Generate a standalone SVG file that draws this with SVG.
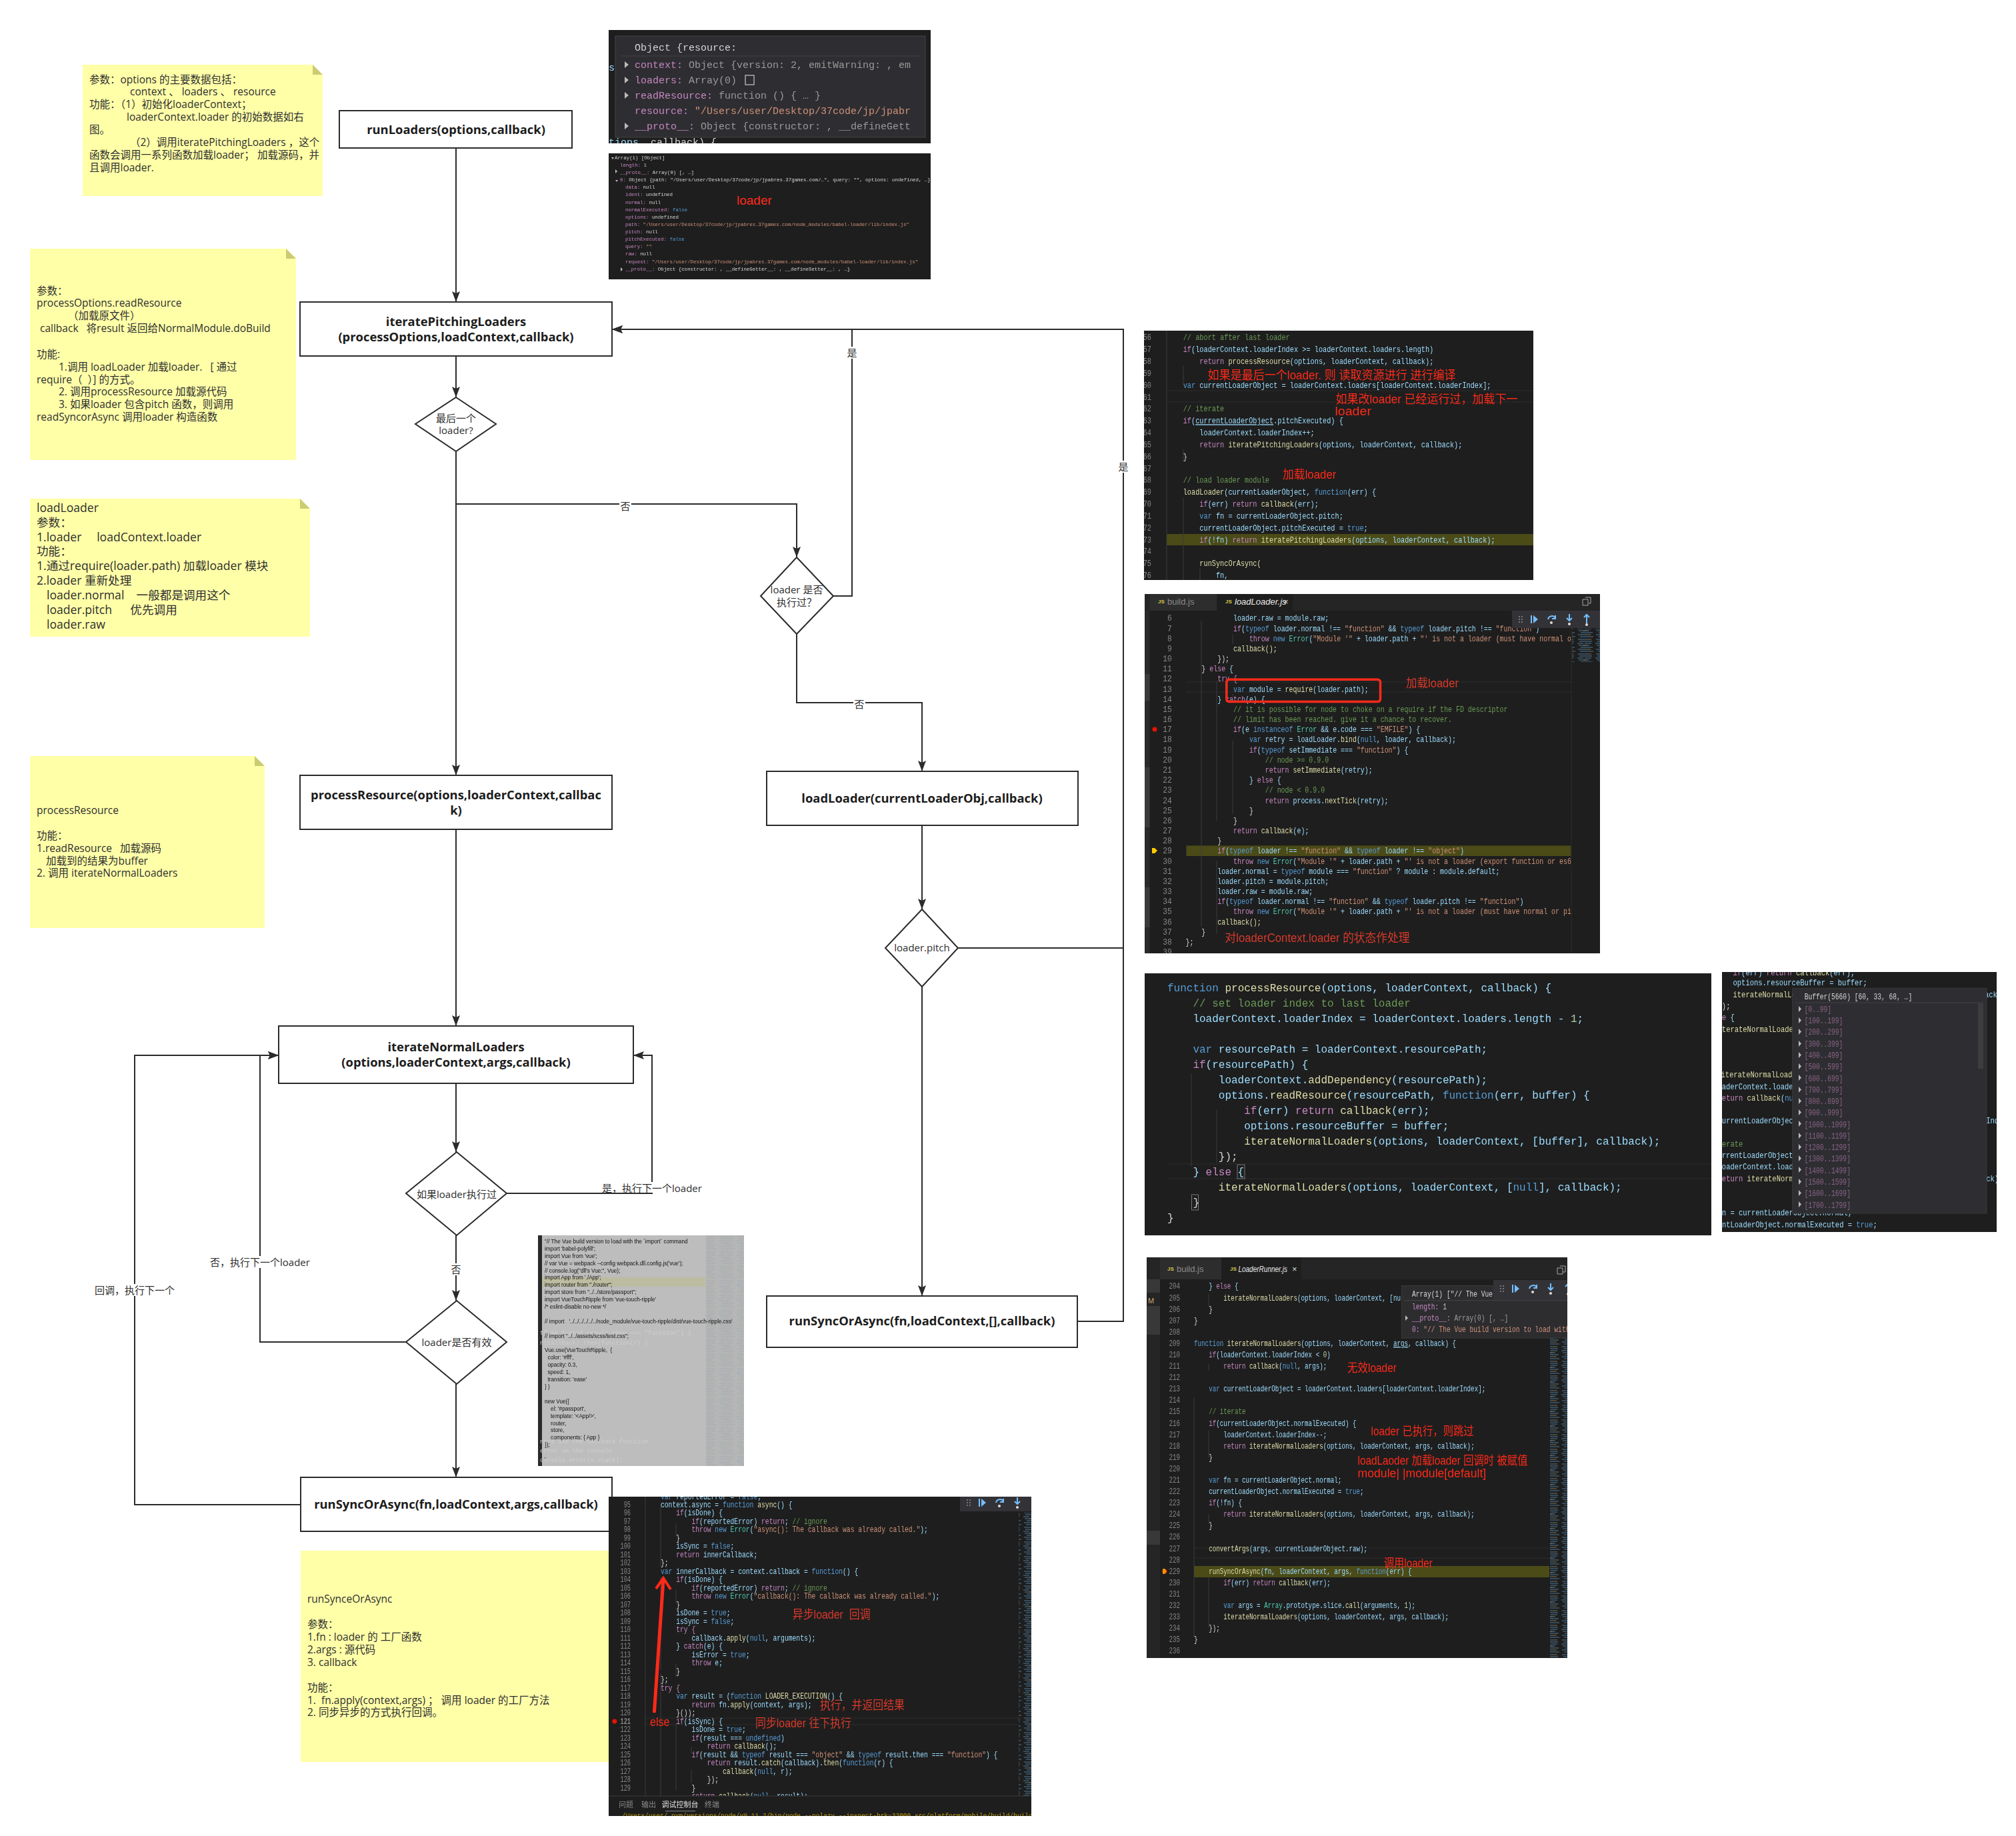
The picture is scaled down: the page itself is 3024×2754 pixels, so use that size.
<svg xmlns="http://www.w3.org/2000/svg" width="3024" height="2754" viewBox="0 0 3024 2754">
<style>
text{white-space:pre}
.u{font-family:"Open Sans","Noto Sans CJK SC",sans-serif;fill:#2f2f2f;font-size:15.5px}
.big{font-size:17.6px}
.h{font-family:"Open Sans","Noto Sans CJK SC",sans-serif;fill:#1c1c1c;font-size:18.4px;font-weight:700;text-anchor:middle}
.d{text-anchor:middle;font-size:15px}
.box{fill:#fff;stroke:#2b2b2b;stroke-width:2}
.note{fill:#ffffa8}
.fold{fill:#cbcb72}
.cn{fill:none;stroke:#2b2b2b;stroke-width:2}
.wb{fill:#fff}
.m{font-family:"Liberation Mono","DejaVu Sans Mono","Noto Sans CJK SC",monospace;fill:#9cdcfe;font-size:13px}
.k{fill:#c586c0}.b{fill:#569cd6}.f{fill:#dcdcaa}.s{fill:#ce9178}.c{fill:#6a9955}.t{fill:#4ec9b0}.n{fill:#b5cea8}.w{fill:#d4d4d4}.g{fill:#9a9a9a}.p{fill:#c586c0}
.l{font-family:"Liberation Mono","DejaVu Sans Mono",monospace;fill:#858585;font-size:13px;text-anchor:end}
.r{font-family:"Liberation Sans","Noto Sans CJK SC",sans-serif;fill:#ff2a1a;font-size:18px}
.dim{fill:#d8392b}
.bg{fill:#1e1e1e}
.tab{font-family:"Liberation Sans",sans-serif;font-size:13px;fill:#8a8a8a}
.js{font-family:"Liberation Sans",sans-serif;font-size:8px;font-weight:700;fill:#d4c94a}
.a{font-family:"Liberation Sans",sans-serif;font-size:8.2px;fill:#111}
.gh{font-family:"Liberation Mono",monospace;font-size:9px;fill:#cfcfcf}
.hl{fill:#4b4b18}
.cl{stroke:#2c2c2c;stroke-width:1}
.guide{stroke:#3a3a3a;stroke-width:1}
</style>
<defs>
<marker id="ar" markerUnits="userSpaceOnUse" markerWidth="18" markerHeight="14" refX="16" refY="6" orient="auto"><path d="M0,0L16,6L0,12L3,6Z" fill="#2b2b2b"/></marker>
<filter id="soft"><feGaussianBlur stdDeviation="0.3"/></filter>
<pattern id="mini" width="27" height="22" patternUnits="userSpaceOnUse">
<path d="M2 2h14M4 5h19M1 8h9M12 8h10M3 11h16M6 14h18M2 17h12M5 20h20" stroke="#4d7a99" stroke-width="1.2" fill="none"/>
<path d="M16 2h6M10 11h5M14 17h7" stroke="#7d6f55" stroke-width="1.2" fill="none"/>
</pattern>
<g id="tb"><rect width="132" height="26" fill="#333337"/>
<path d="M10 8h2v2h-2zM14 8h2v2h-2zM10 12h2v2h-2zM14 12h2v2h-2zM10 16h2v2h-2zM14 16h2v2h-2z" fill="#777"/>
<path d="M28 7h2v12h-2zM32 7l7 6l-7 6z" fill="#75beff"/>
<path d="M54 13a6 6 0 0 1 11-2M65 7v5h-5" stroke="#75beff" stroke-width="2" fill="none"/><circle cx="59" cy="18" r="2" fill="#ddd"/>
<path d="M86 5v9M82 11l4 4l4-4" stroke="#75beff" stroke-width="2" fill="none"/><circle cx="86" cy="20" r="2" fill="#ddd"/>
<path d="M112 19v-13M108 10l4-4l4 4" stroke="#75beff" stroke-width="2" fill="none"/><circle cx="112" cy="21" r="2" fill="#ddd"/>
</g>
<clipPath id="c1"><rect width="483" height="170"/></clipPath>
<clipPath id="c2"><rect width="483" height="189"/></clipPath>
<clipPath id="c3"><rect width="584" height="374"/></clipPath>
<clipPath id="c4"><rect width="683" height="539"/></clipPath>
<clipPath id="c5"><rect width="850" height="393"/></clipPath>
<clipPath id="c6"><rect width="412" height="390"/></clipPath>
<clipPath id="c7"><rect width="631" height="601"/></clipPath>
<clipPath id="c8"><rect width="634" height="479"/></clipPath>
<clipPath id="c9"><rect width="309" height="346"/></clipPath>
</defs>
<rect width="3024" height="2754" fill="#fff"/>

<g id="note-runLoaders"><path class="note" d="M124 97H469L484 112V294H124Z"/><path class="fold" d="M469 97L484 112H469Z"/>
<text class="u" x="134" y="125">参数：options 的主要数据包括：</text>
<text class="u" x="195" y="143">context 、 loaders 、 resource</text>
<text class="u" x="134" y="162">功能：（1）初始化loaderContext；</text>
<text class="u" x="190" y="181">loaderContext.loader 的初始数据如右</text>
<text class="u" x="134" y="200">图。</text>
<text class="u" x="195" y="219">（2）调用iteratePitchingLoaders ，这个</text>
<text class="u" x="134" y="238">函数会调用一系列函数加载loader； 加载源码，并</text>
<text class="u" x="134" y="257">且调用loader.</text></g>

<g id="note-iteratePitching"><path class="note" d="M45 373H429L444 388V690H45Z"/><path class="fold" d="M429 373L444 388H429Z"/>
<text class="u" x="55" y="442">参数：</text>
<text class="u" x="55" y="460">processOptions.readResource</text>
<text class="u" x="102" y="479">（加载原文件）</text>
<text class="u" x="60" y="498">callback   将result 返回给NormalModule.doBuild</text>
<text class="u" x="55" y="537">功能:</text>
<text class="u" x="88" y="556">1.调用 loadLoader 加载loader.   [ 通过</text>
<text class="u" x="55" y="575">require（  ）] 的方式。</text>
<text class="u" x="88" y="593">2. 调用processResource 加载源代码</text>
<text class="u" x="88" y="612">3. 如果loader 包含pitch 函数，则调用</text>
<text class="u" x="55" y="631">readSyncorAsync 调用loader 构造函数</text></g>

<g id="note-loadLoader"><path class="note" d="M45 748H450L465 763V955H45Z"/><path class="fold" d="M450 748L465 763H450Z"/>
<text class="u big" x="55" y="768">loadLoader</text>
<text class="u big" x="55" y="790">参数：</text>
<text class="u big" x="55" y="812">1.loader     loadContext.loader</text>
<text class="u big" x="55" y="833">功能：</text>
<text class="u big" x="55" y="855">1.通过require(loader.path) 加载loader 模块</text>
<text class="u big" x="55" y="877">2.loader 重新处理</text>
<text class="u big" x="70" y="899">loader.normal    一般都是调用这个</text>
<text class="u big" x="70" y="921">loader.pitch      优先调用</text>
<text class="u big" x="70" y="943">loader.raw</text></g>

<g id="note-processResource"><path class="note" d="M45 1134H382L397 1149V1392H45Z"/><path class="fold" d="M382 1134L397 1149H382Z"/>
<text class="u" x="55" y="1221">processResource</text>
<text class="u" x="55" y="1259">功能：</text>
<text class="u" x="55" y="1278">1.readResource   加载源码</text>
<text class="u" x="69" y="1297">加载到的结果为buffer</text>
<text class="u" x="55" y="1315">2. 调用 iterateNormalLoaders</text></g>

<g id="note-runSync"><rect class="note" x="451" y="2326" width="480" height="317"/>
<text class="u" x="461" y="2404">runSynceOrAsync</text>
<text class="u" x="461" y="2442">参数：</text>
<text class="u" x="461" y="2461">1.fn : loader 的 工厂函数</text>
<text class="u" x="461" y="2480">2.args : 源代码</text>
<text class="u" x="461" y="2499">3. callback</text>
<text class="u" x="461" y="2537">功能：</text>
<text class="u" x="461" y="2556">1.  fn.apply(context,args) ； 调用 loader 的工厂方法</text>
<text class="u" x="461" y="2574">2. 同步异步的方式执行回调。</text></g>

<g id="connectors">
<path class="cn" marker-end="url(#ar)" d="M684 222V453"/>
<path class="cn" marker-end="url(#ar)" d="M684 534V596"/>
<path class="cn" marker-end="url(#ar)" d="M684 677V1163"/>
<path class="cn" marker-end="url(#ar)" d="M684 756H1195V836"/>
<path class="cn" marker-end="url(#ar)" d="M1250 894H1278V494H918"/>
<path class="cn" marker-end="url(#ar)" d="M1195 951V1054H1383V1157"/>
<path class="cn" marker-end="url(#ar)" d="M1383 1238V1364"/>
<path class="cn" d="M1437 1422H1685"/>
<path class="cn" marker-end="url(#ar)" d="M1383 1480V1944"/>
<path class="cn" marker-end="url(#ar)" d="M1616 1982H1685V494H918"/>
<path class="cn" marker-end="url(#ar)" d="M684 1244V1539"/>
<path class="cn" marker-end="url(#ar)" d="M684 1625V1728"/>
<path class="cn" marker-end="url(#ar)" d="M760 1790H978V1583H950"/>
<path class="cn" marker-end="url(#ar)" d="M684 1853V1951"/>
<path class="cn" marker-end="url(#ar)" d="M609 2013H390V1583H418"/>
<path class="cn" marker-end="url(#ar)" d="M684 2076V2216"/>
<path class="cn" marker-end="url(#ar)" d="M451 2257H202V1583H418"/>
<g id="connector-labels">
<rect class="wb" x="929" y="750" width="18" height="18"/><text class="u d" x="938" y="765">否</text>
<rect class="wb" x="1269" y="520" width="18" height="18"/><text class="u d" x="1278" y="535">是</text>
<rect class="wb" x="1280" y="1047" width="18" height="18"/><text class="u d" x="1289" y="1062">否</text>
<rect class="wb" x="1676" y="691" width="18" height="18"/><text class="u d" x="1685" y="706">是</text>
<rect class="wb" x="902" y="1773" width="152" height="16"/><text class="u d" x="978" y="1788">是，执行下一个loader</text>
<rect class="wb" x="675" y="1895" width="18" height="18"/><text class="u d" x="684" y="1910">否</text>
<rect class="wb" x="313" y="1884" width="152" height="18"/><text class="u d" x="390" y="1899">否，执行下一个loader</text>
<rect class="wb" x="140" y="1926" width="124" height="18"/><text class="u d" x="202" y="1941">回调，执行下一个</text>
</g>
</g>

<g id="node-runLoaders"><rect class="box" x="509" y="166" width="349" height="56"/><text class="h" x="684" y="201">runLoaders(options,callback)</text></g>
<g id="node-iteratePitchingLoaders"><rect class="box" x="450" y="453" width="468" height="81"/><text class="h" x="684" y="489">iteratePitchingLoaders</text><text class="h" x="684" y="512">(processOptions,loadContext,callback)</text></g>
<g id="node-lastLoader"><path class="box" d="M684 596L744 636L684 677L623 636Z"/><text class="u d" x="684" y="633">最后一个</text><text class="u d" x="684" y="651">loader?</text></g>
<g id="node-executed"><path class="box" d="M1195 836L1250 894L1195 951L1141 894Z"/><text class="u d" x="1195" y="890">loader 是否</text><text class="u d" x="1195" y="909">执行过？</text></g>
<g id="node-processResource"><rect class="box" x="450" y="1163" width="468" height="81"/><text class="h" x="684" y="1199">processResource(options,loaderContext,callbac</text><text class="h" x="684" y="1222">k)</text></g>
<g id="node-loadLoader"><rect class="box" x="1150" y="1157" width="467" height="81"/><text class="h" x="1383" y="1204">loadLoader(currentLoaderObj,callback)</text></g>
<g id="node-pitch"><path class="box" d="M1383 1364L1437 1422L1383 1480L1328 1422Z"/><text class="u d" x="1383" y="1427">loader.pitch</text></g>
<g id="node-runSyncPitch"><rect class="box" x="1150" y="1944" width="466" height="77"/><text class="h" x="1383" y="1988">runSyncOrAsync(fn,loadContext,[],callback)</text></g>
<g id="node-iterateNormalLoaders"><rect class="box" x="418" y="1539" width="532" height="86"/><text class="h" x="684" y="1577">iterateNormalLoaders</text><text class="h" x="684" y="1600">(options,loaderContext,args,callback)</text></g>
<g id="node-normalExecuted"><path class="box" d="M685 1728L760 1790L685 1853L609 1790Z"/><text class="u d" x="685" y="1797">如果loader执行过</text></g>
<g id="node-valid"><path class="box" d="M685 1951L760 2013L685 2076L609 2013Z"/><text class="u d" x="685" y="2019">loader是否有效</text></g>
<g id="node-runSync"><rect class="box" x="451" y="2216" width="467" height="81"/><text class="h" x="684" y="2263">runSyncOrAsync(fn,loadContext,args,callback)</text></g>

<g id="shot-options" transform="translate(913,45)" clip-path="url(#c1)">
<rect class="bg" width="483" height="170"/>
<g filter="url(#soft)">
<text class="m" style="font-size:15px" x="0" y="61">s</text>
<text class="m" style="font-size:15px" x="0" y="173">tions<tspan class="w">, callback) {</tspan></text>
<rect x="10" y="9" width="465" height="152" fill="#2d2d30" stroke="#454545"/>
<path d="M18 39H467" stroke="#454545"/>
<path d="M24 47l6 5l-6 5zM24 70l6 5l-6 5zM24 93l6 5l-6 5zM24 139l6 5l-6 5z" fill="#bbb" stroke="none"/>
<text class="m w" style="font-size:15px" x="39" y="31">Object {resource:</text>
<text class="m" style="font-size:15px" x="39" y="57"><tspan class="p">context:</tspan><tspan class="g"> Object {version: 2, emitWarning: , em</tspan></text>
<text class="m" style="font-size:15px" x="39" y="80"><tspan class="p">loaders:</tspan><tspan class="g"> Array(0)</tspan></text>
<rect x="205" y="68" width="13" height="14" fill="none" stroke="#aaa" stroke-width="1.5"/>
<text class="m" style="font-size:15px" x="39" y="103"><tspan class="p">readResource:</tspan><tspan class="g"> function () { … }</tspan></text>
<text class="m" style="font-size:15px" x="39" y="126"><tspan class="p">resource:</tspan><tspan class="s"> "/Users/user/Desktop/37code/jp/jpabr</tspan></text>
<text class="m" style="font-size:15px" x="39" y="149"><tspan class="p">__proto__:</tspan><tspan class="g"> Object {constructor: , __defineGett</tspan></text>
</g></g>

<g id="shot-loader" transform="translate(913,230)" clip-path="url(#c2)">
<rect class="bg" width="483" height="189"/>
<g filter="url(#soft)">
<path d="M4 6l4 0l-2 3zM10 24l3 3l-3 3zM10 40l4 0l-2 3zM18 171l3 3l-3 3z" fill="#bbb"/>
<text class="m w" style="font-size:7.4px" x="9" y="9">Array(1) [Object]</text>
<text class="m n" style="font-size:7.4px" x="17" y="20"><tspan class="p">length:</tspan> 1</text>
<text class="m w" style="font-size:7.4px" x="17" y="31"><tspan class="p">__proto__:</tspan> Array(0) [, …]</text>
<text class="m w" style="font-size:7.4px" x="17" y="42"><tspan class="p">0:</tspan> Object {path: "/Users/user/Desktop/37code/jp/jpabres.37games.com/…", query: "", options: undefined, …}</text>
<text class="m w" style="font-size:7.4px" x="25" y="53"><tspan class="p">data:</tspan> null</text>
<text class="m w" style="font-size:7.4px" x="25" y="64"><tspan class="p">ident:</tspan> undefined</text>
<text class="m w" style="font-size:7.4px" x="25" y="76"><tspan class="p">normal:</tspan> null</text>
<text class="m w" style="font-size:7.4px" x="25" y="87"><tspan class="p">normalExecuted:</tspan><tspan class="b"> false</tspan></text>
<text class="m w" style="font-size:7.4px" x="25" y="98"><tspan class="p">options:</tspan> undefined</text>
<text class="m s" style="font-size:7.4px" x="25" y="109"><tspan class="p">path:</tspan> "/Users/user/Desktop/37code/jp/jpabres.37games.com/node_modules/babel-loader/lib/index.js"</text>
<text class="m w" style="font-size:7.4px" x="25" y="120"><tspan class="p">pitch:</tspan> null</text>
<text class="m w" style="font-size:7.4px" x="25" y="131"><tspan class="p">pitchExecuted:</tspan><tspan class="b"> false</tspan></text>
<text class="m s" style="font-size:7.4px" x="25" y="142"><tspan class="p">query:</tspan> ""</text>
<text class="m w" style="font-size:7.4px" x="25" y="153"><tspan class="p">raw:</tspan> null</text>
<text class="m s" style="font-size:7.4px" x="25" y="165"><tspan class="p">request:</tspan> "/Users/user/Desktop/37code/jp/jpabres.37games.com/node_modules/babel-loader/lib/index.js"</text>
<text class="m w" style="font-size:7.4px" x="25" y="176"><tspan class="p">__proto__:</tspan> Object {constructor: , __defineGetter__: , __defineSetter__: , …}</text>
</g>
<text class="r" style="font-size:19px" x="192" y="77">loader</text>
</g>

<g id="shot-pitching" transform="translate(1716,496)" clip-path="url(#c3)">
<rect class="bg" width="587" height="374"/>
<path class="cl" d="M34 90H587M34 107H587"/>
<rect class="hl" x="34" y="305" width="553" height="17"/>
<path class="guide" d="M34 0V374M59 53V78M59 178V196M59 250V374M84 356V374"/>
<g filter="url(#soft)">
<g class="l" transform="translate(11,0) scale(.79,1)">
<text class="l" y="14.5">56</text><text class="l" y="32.3">57</text><text class="l" y="50.2">58</text><text class="l" y="68">59</text><text class="l" y="85.8">60</text><text class="l w" y="103.7">61</text><text class="l" y="121.5">62</text><text class="l" y="139.3">63</text><text class="l" y="157.1">64</text><text class="l" y="175">65</text><text class="l" y="192.8">66</text><text class="l" y="210.6">67</text><text class="l" y="228.5">68</text><text class="l" y="246.3">69</text><text class="l" y="264.1">70</text><text class="l" y="282">71</text><text class="l" y="299.8">72</text><text class="l" y="317.6">73</text><text class="l" y="335.4">74</text><text class="l" y="353.3">75</text><text class="l" y="371.1">76</text>
</g>
<g transform="translate(58.7,0) scale(.79,1)">
<text class="m c" y="14.5">// abort after last loader</text>
<text class="m" y="32.3"><tspan class="k">if</tspan>(loaderContext.loaderIndex &gt;= loaderContext.loaders.length)</text>
<text class="m" y="50.2"><tspan class="k">    return</tspan> <tspan class="f">processResource</tspan>(options, loaderContext, callback);</text>
<text class="m" y="85.8"><tspan class="b">var</tspan> currentLoaderObject = loaderContext.loaders[loaderContext.loaderIndex];</text>
<text class="m c" y="121.5">// iterate</text>
<text class="m" y="139.3"><tspan class="k">if</tspan>(<tspan text-decoration="underline">currentLoaderObject</tspan>.pitchExecuted) {</text>
<text class="m" y="157.1">    loaderContext.loaderIndex++;</text>
<text class="m" y="175"><tspan class="k">    return</tspan> <tspan class="f">iteratePitchingLoaders</tspan>(options, loaderContext, callback);</text>
<text class="m w" y="192.8">}</text>
<text class="m c" y="228.5">// load loader module</text>
<text class="m" y="246.3"><tspan class="f">loadLoader</tspan>(currentLoaderObject, <tspan class="b">function</tspan>(err) {</text>
<text class="m" y="264.1"><tspan class="k">    if</tspan>(err) <tspan class="k">return</tspan> <tspan class="f">callback</tspan>(err);</text>
<text class="m" y="282"><tspan class="b">    var</tspan> fn = currentLoaderObject.pitch;</text>
<text class="m" y="299.8">    currentLoaderObject.pitchExecuted = <tspan class="b">true</tspan>;</text>
<text class="m" y="317.6"><tspan class="k">    if</tspan>(!fn) <tspan class="k">return</tspan> <tspan class="f">iteratePitchingLoaders</tspan>(options, loaderContext, callback);</text>
<text class="m f" y="353.3">    runSyncOrAsync(</text>
<text class="m" y="371.1">        fn,</text>
</g></g>
<text class="r" x="95.6" y="73" textLength="372" lengthAdjust="spacingAndGlyphs">如果是最后一个loader. 则 读取资源进行 进行编译</text>
<text class="r" x="287.6" y="109" textLength="273" lengthAdjust="spacingAndGlyphs">如果改loader 已经运行过，加载下一</text>
<text class="r" x="286.4" y="127" textLength="54.6" lengthAdjust="spacingAndGlyphs">loader</text>
<text class="r" x="208" y="222" textLength="80.4" lengthAdjust="spacingAndGlyphs">加载loader</text>
</g>

<g id="shot-loadLoader" transform="translate(1717,891)" clip-path="url(#c4)">
<rect class="bg" width="686" height="539"/>
<rect width="686" height="25" fill="#252526"/><rect x="7.5" width="101" height="25" fill="#2d2d2d"/><rect x="108.5" width="114" height="25" class="bg"/>
<rect y="25" width="7.5" height="514" fill="#2a2a2a"/><rect y="120" width="7.5" height="40" fill="#3a3a3a"/><rect y="260" width="7.5" height="90" fill="#3a3a3a"/><rect y="440" width="7.5" height="60" fill="#3a3a3a"/>
<text class="js" x="20" y="14">JS</text><text class="tab" x="34" y="16">build.js</text>
<text class="js" x="121" y="14">JS</text><text class="tab" x="135" y="16" style="fill:#e8e8e8;font-style:italic">loadLoader.js</text><text class="tab" x="208" y="16" style="fill:#ddd">×</text>
<path d="M657 8h8v9h-8zM661 5h8v9h-3" fill="none" stroke="#aaa"/>
<path class="cl" d="M62 132H642M62 147H642"/>
<rect class="hl" x="62.4" y="377.4" width="577" height="15.6"/>
<path class="guide" d="M85 40V500M108 130V340M108 400V510M132 60V75M132 150V155M132 220V330"/>
<g filter="url(#soft)">
<g transform="translate(40.7,0) scale(.87,1)">
<text class="l" y="40.5">6</text><text class="l" y="55.7">7</text><text class="l" y="70.8">8</text><text class="l" y="86">9</text><text class="l" y="101.2">10</text><text class="l" y="116.4">11</text><text class="l" y="131.5">12</text><text class="l w" y="146.7">13</text><text class="l" y="161.9">14</text><text class="l" y="177">15</text><text class="l" y="192.2">16</text><text class="l" y="207.4">17</text><text class="l" y="222.5">18</text><text class="l" y="237.7">19</text><text class="l" y="252.9">20</text><text class="l" y="268.1">21</text><text class="l" y="283.2">22</text><text class="l" y="298.4">23</text><text class="l" y="313.6">24</text><text class="l" y="328.7">25</text><text class="l" y="343.9">26</text><text class="l" y="359.1">27</text><text class="l" y="374.2">28</text><text class="l" y="389.4">29</text><text class="l" y="404.6">30</text><text class="l" y="419.8">31</text><text class="l" y="434.9">32</text><text class="l" y="450.1">33</text><text class="l" y="465.3">34</text><text class="l" y="480.4">35</text><text class="l" y="495.6">36</text><text class="l" y="510.8">37</text><text class="l" y="525.9">38</text><text class="l" y="541.1">39</text>
</g>
<g transform="translate(61.5,0) scale(.765,1)">
<text class="m" style="font-size:13px" y="40.5">            loader.raw = module.raw;</text>
<text class="m" y="55.7"><tspan class="k">            if</tspan>(<tspan class="b">typeof</tspan> loader.normal !== <tspan class="s">"function"</tspan> &amp;&amp; <tspan class="b">typeof</tspan> loader.pitch !== <tspan class="s">"function"</tspan>)</text>
<text class="m" y="70.8"><tspan class="k">                throw</tspan> <tspan class="b">new</tspan> <tspan class="t">Error</tspan>(<tspan class="s">"Module '"</tspan> + loader.path + <tspan class="s">"' is not a loader (must have normal or pitch function)"</tspan>);</text>
<text class="m f" y="86">            callback();</text>
<text class="m w" y="101.2">        });</text>
<text class="m" y="116.4"><tspan class="w">    } </tspan><tspan class="k">else</tspan> {</text>
<text class="m k" y="131.5">        try {</text>
<text class="m" y="146.7"><tspan class="b">            var</tspan> module = <tspan class="f">require</tspan>(loader.path);</text>
<text class="m" y="161.9">        } <tspan class="k">catch</tspan>(e) {</text>
<text class="m c" y="177">            // it is possible for node to choke on a require if the FD descriptor</text>
<text class="m c" y="192.2">            // limit has been reached. give it a chance to recover.</text>
<text class="m" y="207.4"><tspan class="k">            if</tspan>(e <tspan class="b">instanceof</tspan> <tspan class="t">Error</tspan> &amp;&amp; e.code === <tspan class="s">"EMFILE"</tspan>) {</text>
<text class="m" y="222.5"><tspan class="b">                var</tspan> retry = loadLoader.<tspan class="f">bind</tspan>(<tspan class="b">null</tspan>, loader, callback);</text>
<text class="m" y="237.7"><tspan class="k">                if</tspan>(<tspan class="b">typeof</tspan> setImmediate === <tspan class="s">"function"</tspan>) {</text>
<text class="m c" y="252.9">                    // node &gt;= 0.9.0</text>
<text class="m" y="268.1"><tspan class="k">                    return</tspan> <tspan class="f">setImmediate</tspan>(retry);</text>
<text class="m" y="283.2">                } <tspan class="k">else</tspan> {</text>
<text class="m c" y="298.4">                    // node &lt; 0.9.0</text>
<text class="m" y="313.6"><tspan class="k">                    return</tspan> process.<tspan class="f">nextTick</tspan>(retry);</text>
<text class="m w" y="328.7">                }</text>
<text class="m w" y="343.9">            }</text>
<text class="m" y="359.1"><tspan class="k">            return</tspan> <tspan class="f">callback</tspan>(e);</text>
<text class="m w" y="374.2">        }</text>
<text class="m" y="389.4"><tspan class="k">        if</tspan>(<tspan class="b">typeof</tspan> loader !== <tspan class="s">"function"</tspan> &amp;&amp; <tspan class="b">typeof</tspan> loader !== <tspan class="s">"object"</tspan>)</text>
<text class="m" y="404.6"><tspan class="k">            throw</tspan> <tspan class="b">new</tspan> <tspan class="t">Error</tspan>(<tspan class="s">"Module '"</tspan> + loader.path + <tspan class="s">"' is not a loader (export function or es6 module)"</tspan>);</text>
<text class="m" y="419.8">        loader.normal = <tspan class="b">typeof</tspan> module === <tspan class="s">"function"</tspan> ? module : module.default;</text>
<text class="m" y="434.9">        loader.pitch = module.pitch;</text>
<text class="m" y="450.1">        loader.raw = module.raw;</text>
<text class="m" y="465.3"><tspan class="k">        if</tspan>(<tspan class="b">typeof</tspan> loader.normal !== <tspan class="s">"function"</tspan> &amp;&amp; <tspan class="b">typeof</tspan> loader.pitch !== <tspan class="s">"function"</tspan>)</text>
<text class="m" y="480.4"><tspan class="k">            throw</tspan> <tspan class="b">new</tspan> <tspan class="t">Error</tspan>(<tspan class="s">"Module '"</tspan> + loader.path + <tspan class="s">"' is not a loader (must have normal or pitch function)"</tspan>);</text>
<text class="m f" y="495.6">        callback();</text>
<text class="m w" y="510.8">    }</text>
<text class="m w" y="525.9">};</text>
</g></g>
<rect x="640" y="25" width="44" height="514" class="bg"/>
<rect x="641" y="52" width="43" height="50" fill="url(#mini)"/>
<path d="M640 25V539" stroke="#2c2c2c"/>
<use href="#tb" x="551" y="25"/>
<rect x="122.8" y="128.3" width="230.7" height="33.3" rx="4" fill="none" stroke="#ff2a1a" stroke-width="3.5"/>
<text class="r dim" x="392" y="140" textLength="79" lengthAdjust="spacingAndGlyphs">加载loader</text>
<text class="r dim" x="120.5" y="522" textLength="277" lengthAdjust="spacingAndGlyphs">对loaderContext.loader 的状态作处理</text>
<circle cx="15" cy="203" r="3.5" fill="#e51400"/>
<path d="M11 381h4l4 4l-4 4h-4z" fill="#ffcc00"/>
</g>

<g id="shot-processResource" transform="translate(1717,1460)" clip-path="url(#c5)">
<rect class="bg" width="854" height="393"/>
<path class="cl" d="M34 286H854M34 308H854"/>
<path class="guide" d="M70 150V290M108 205V285"/>
<rect x="139" y="287" width="11" height="21" fill="none" stroke="#777"/><rect x="70.5" y="332" width="10" height="23" fill="none" stroke="#777"/>
<g transform="translate(34,0)" filter="url(#soft)">
<text class="m" style="font-size:16px" y="27"><tspan class="b">function</tspan> <tspan class="f">processResource</tspan>(options, loaderContext, callback) {</text>
<text class="m c" style="font-size:16px" y="50">    // set loader index to last loader</text>
<text class="m" style="font-size:16px" y="73">    loaderContext.loaderIndex = loaderContext.loaders.length - <tspan class="n">1</tspan>;</text>
<text class="m" style="font-size:16px" y="119"><tspan class="b">    var</tspan> resourcePath = loaderContext.resourcePath;</text>
<text class="m" style="font-size:16px" y="142"><tspan class="k">    if</tspan>(resourcePath) {</text>
<text class="m" style="font-size:16px" y="165">        loaderContext.<tspan class="f">addDependency</tspan>(resourcePath);</text>
<text class="m" style="font-size:16px" y="188">        options.<tspan class="f">readResource</tspan>(resourcePath, <tspan class="b">function</tspan>(err, buffer) {</text>
<text class="m" style="font-size:16px" y="211"><tspan class="k">            if</tspan>(err) <tspan class="k">return</tspan> <tspan class="f">callback</tspan>(err);</text>
<text class="m" style="font-size:16px" y="234">            options.resourceBuffer = buffer;</text>
<text class="m" style="font-size:16px" y="257"><tspan class="f">            iterateNormalLoaders</tspan>(options, loaderContext, [buffer], callback);</text>
<text class="m w" style="font-size:16px" y="280">        });</text>
<text class="m" style="font-size:16px" y="303">    } <tspan class="k">else</tspan> {</text>
<text class="m" style="font-size:16px" y="326"><tspan class="f">        iterateNormalLoaders</tspan>(options, loaderContext, [<tspan class="b">null</tspan>], callback);</text>
<text class="m w" style="font-size:16px" y="349">    }</text>
<text class="m w" style="font-size:16px" y="372">}</text>
</g></g>

<g id="shot-buffer" transform="translate(2583,1458)" clip-path="url(#c6)">
<rect class="bg" width="412" height="390"/>
<g filter="url(#soft)">
<g transform="translate(16.5,0) scale(.808,1)">
<text class="m" y="5"><tspan class="k">if</tspan>(err) <tspan class="k">return</tspan> <tspan class="f">callback</tspan>(err);</text>
<text class="m" y="20.3">options.resourceBuffer = buffer;</text>
<text class="m" y="37.7"><tspan class="f">iterateNormalLoaders</tspan>(options, loaderContext, [buffer], callback);</text>
</g>
<g transform="scale(.808,1)">
<text class="m w" x="-8" y="55">});</text>
<text class="m" x="-39" y="72"><tspan class="w">} </tspan><tspan class="k">else</tspan> {</text>
<text class="m f" x="-8" y="89.7">iterateNormalLoaders(options, loaderContext, [null], callback);</text>
<text class="m f" x="-2" y="158.3">iterateNormalLoaders(options, loaderContext, [null], callback);</text>
<text class="m" x="-16" y="175.7">loaderContext.loaderIndex--;</text>
<text class="m" x="-8" y="192.7"><tspan class="k">return</tspan> <tspan class="f">callback</tspan>(<tspan class="b">null</tspan>, args);</text>
<text class="m" x="-8" y="227.3">currentLoaderObject = loaderContext.loaders[loaderContext.loaderIndex];</text>
<text class="m c" x="-39" y="262">// iterate</text>
<text class="m" x="-16" y="279.3">currentLoaderObject.normalExecuted) {</text>
<text class="m" x="-8" y="296.3">loaderContext.loaderIndex--;</text>
<text class="m" x="-8" y="313.7"><tspan class="k">return</tspan> <tspan class="f">iterateNormalLoaders</tspan>(options, loaderContext, args, callback);</text>
<text class="m" x="-8" y="365.3">fn = currentLoaderObject.normal;</text>
<text class="m" x="-39" y="382.7">currentLoaderObject.normalExecuted = <tspan class="b">true</tspan>;</text>
</g>
<rect x="105.7" y="24.3" width="291.3" height="337.7" fill="#2d2d30" stroke="#3a3a3a"/>
<path d="M110 46H392" stroke="#454545"/>
<rect x="384" y="47" width="8" height="98" fill="#3c3c3c"/>
<path d="M115 51l4 4.500l-4 4.500zM115 68l4 4.500l-4 4.500zM115 85l4 4.500l-4 4.500zM115 103l4 4.500l-4 4.500zM115 120l4 4.500l-4 4.500zM115 137l4 4.500l-4 4.500zM115 154l4 4.500l-4 4.500zM115 172l4 4.500l-4 4.500zM115 189l4 4.500l-4 4.500zM115 206l4 4.500l-4 4.500zM115 223l4 4.500l-4 4.500zM115 241l4 4.500l-4 4.500zM115 258l4 4.500l-4 4.500zM115 275l4 4.500l-4 4.500zM115 292l4 4.500l-4 4.500zM115 310l4 4.500l-4 4.500zM115 327l4 4.500l-4 4.500zM115 344l4 4.500l-4 4.500z" fill="#bbb"/>
<g transform="translate(123.7,0) scale(.74,1)">
<text class="m w" y="41">Buffer(5660) [60, 33, 68, …]</text>
<text class="m p" style="opacity:.6" y="60">[0..99]</text><text class="m p" style="opacity:.6" y="77.300">[100..199]</text><text class="m p" style="opacity:.6" y="94.500">[200..299]</text><text class="m p" style="opacity:.6" y="111.800">[300..399]</text><text class="m p" style="opacity:.6" y="129.100">[400..499]</text><text class="m p" style="opacity:.6" y="146.400">[500..599]</text><text class="m p" style="opacity:.6" y="163.600">[600..699]</text><text class="m p" style="opacity:.6" y="180.900">[700..799]</text><text class="m p" style="opacity:.6" y="198.200">[800..899]</text><text class="m p" style="opacity:.6" y="215.400">[900..999]</text><text class="m p" style="opacity:.6" y="232.700">[1000..1099]</text><text class="m p" style="opacity:.6" y="250">[1100..1199]</text><text class="m p" style="opacity:.6" y="267.200">[1200..1299]</text><text class="m p" style="opacity:.6" y="284.500">[1300..1399]</text><text class="m p" style="opacity:.6" y="301.800">[1400..1499]</text><text class="m p" style="opacity:.6" y="319">[1500..1599]</text><text class="m p" style="opacity:.6" y="336.300">[1600..1699]</text><text class="m p" style="opacity:.6" y="353.600">[1700..1799]</text>
</g>
</g></g>

<g id="shot-loaderRunner" transform="translate(1720,1886)" clip-path="url(#c7)">
<rect class="bg" width="634" height="601"/>
<rect width="634" height="33" fill="#252526"/><rect x="20" width="92" height="33" fill="#2d2d2d"/><rect x="112" width="120" height="33" class="bg"/>
<rect y="33" width="20" height="568" fill="#252526"/><rect y="33" width="20" height="20" fill="#383838"/><rect y="73" width="20" height="43" fill="#383838"/><rect y="410" width="20" height="21" fill="#383838"/>
<text class="js" x="31" y="20">JS</text><text class="tab" x="45" y="22">build.js</text>
<text class="js" x="125" y="20">JS</text><text class="tab" x="137.4" y="22" style="fill:#e8e8e8;font-style:italic" textLength="73.7" lengthAdjust="spacingAndGlyphs">LoaderRunner.js</text><text class="tab" x="218" y="22" style="fill:#ddd">×</text>
<path d="M616 16h8v9h-8zM620 13h8v9h-3" fill="none" stroke="#aaa"/>
<text x="2" y="69" style="font-family:'Liberation Sans',sans-serif;font-size:11px;fill:#c9a26d">M</text>
<path class="cl" d="M71 436H604M71 451H604"/>
<rect class="hl" x="71" y="463" width="533" height="17"/>
<path class="guide" d="M71 210V570M93 55V75M93 160V170M93 260V300M93 385V400M93 480V555"/>
<g filter="url(#soft)">
<g transform="translate(50,0) scale(.71,1)">
<text class="l" y="47.5">204</text><text class="l" y="64.6">205</text><text class="l" y="81.7">206</text><text class="l" y="98.8">207</text><text class="l" y="115.9">208</text><text class="l" y="132.9">209</text><text class="l" y="150">210</text><text class="l" y="167.1">211</text><text class="l" y="184.2">212</text><text class="l" y="201.3">213</text><text class="l" y="218.4">214</text><text class="l" y="235.5">215</text><text class="l" y="252.6">216</text><text class="l" y="269.7">217</text><text class="l" y="286.8">218</text><text class="l" y="303.9">219</text><text class="l" y="320.9">220</text><text class="l" y="338">221</text><text class="l" y="355.1">222</text><text class="l" y="372.2">223</text><text class="l" y="389.3">224</text><text class="l" y="406.4">225</text><text class="l" y="423.5">226</text><text class="l w" y="440.6">227</text><text class="l" y="457.7">228</text><text class="l" y="474.8">229</text><text class="l" y="491.9">230</text><text class="l" y="508.9">231</text><text class="l" y="526">232</text><text class="l" y="543.1">233</text><text class="l" y="560.2">234</text><text class="l" y="577.3">235</text><text class="l" y="594.4">236</text>
</g>
<g transform="translate(71,0) scale(.71,1)">
<text class="m" y="47.5">    } <tspan class="k">else</tspan> {</text>
<text class="m" y="64.6"><tspan class="f">        iterateNormalLoaders</tspan>(options, loaderContext, [nu</text>
<text class="m w" y="81.7">    }</text>
<text class="m w" y="98.8">}</text>
<text class="m" y="132.9"><tspan class="b">function</tspan> <tspan class="f">iterateNormalLoaders</tspan>(options, loaderContext, <tspan text-decoration="underline">args</tspan>, callback) {</text>
<text class="m" y="150"><tspan class="k">    if</tspan>(loaderContext.loaderIndex &lt; <tspan class="n">0</tspan>)</text>
<text class="m" y="167.1"><tspan class="k">        return</tspan> <tspan class="f">callback</tspan>(<tspan class="b">null</tspan>, args);</text>
<text class="m" y="201.3"><tspan class="b">    var</tspan> currentLoaderObject = loaderContext.loaders[loaderContext.loaderIndex];</text>
<text class="m c" y="235.5">    // iterate</text>
<text class="m" y="252.6"><tspan class="k">    if</tspan>(currentLoaderObject.normalExecuted) {</text>
<text class="m" y="269.7">        loaderContext.loaderIndex--;</text>
<text class="m" y="286.8"><tspan class="k">        return</tspan> <tspan class="f">iterateNormalLoaders</tspan>(options, loaderContext, args, callback);</text>
<text class="m w" y="303.9">    }</text>
<text class="m" y="338"><tspan class="b">    var</tspan> fn = currentLoaderObject.normal;</text>
<text class="m" y="355.1">    currentLoaderObject.normalExecuted = <tspan class="b">true</tspan>;</text>
<text class="m" y="372.2"><tspan class="k">    if</tspan>(!fn) {</text>
<text class="m" y="389.3"><tspan class="k">        return</tspan> <tspan class="f">iterateNormalLoaders</tspan>(options, loaderContext, args, callback);</text>
<text class="m w" y="406.4">    }</text>
<text class="m" y="440.6"><tspan class="f">    convertArgs</tspan>(args, currentLoaderObject.raw);</text>
<text class="m" y="474.8"><tspan class="f">    runSyncOrAsync</tspan>(fn, loaderContext, args, <tspan class="b">function</tspan>(err) {</text>
<text class="m" y="491.9"><tspan class="k">        if</tspan>(err) <tspan class="k">return</tspan> <tspan class="f">callback</tspan>(err);</text>
<text class="m" y="526"><tspan class="b">        var</tspan> args = <tspan class="t">Array</tspan>.prototype.slice.<tspan class="f">call</tspan>(arguments, <tspan class="n">1</tspan>);</text>
<text class="m" y="543.1"><tspan class="f">        iterateNormalLoaders</tspan>(options, loaderContext, args, callback);</text>
<text class="m w" y="560.2">    });</text>
<text class="m w" y="577.3">}</text>
</g></g>
<rect x="605" y="121" width="27" height="480" class="bg"/>
<rect x="605" y="121" width="27" height="480" fill="url(#mini)"/>
<rect x="382.400" y="42.500" width="252" height="78.500" fill="#2d2d30" stroke="#3a3a3a"/>
<path d="M386 64.700H634" stroke="#454545"/>
<path d="M388 87l4 4l-4 4z" fill="#bbb"/>
<g transform="translate(398,0) scale(.74,1)" filter="url(#soft)">
<text class="m w" y="59">Array(1) ["// The Vue build version to load with</text>
<text class="m n" y="78"><tspan class="p">length:</tspan> 1</text>
<text class="m g" y="95"><tspan class="p">__proto__:</tspan> Array(0) [, …]</text>
<text class="m s" y="112"><tspan class="p">0:</tspan> "// The Vue build version to load with the</text>
</g>
<use href="#tb" x="520" y="34"/>
<rect x="520" y="60" width="114" height="4" fill="#333337"/>
<text class="r" x="301" y="172" textLength="74" lengthAdjust="spacingAndGlyphs">无效loader</text>
<text class="r" x="336.6" y="266.500" textLength="154" lengthAdjust="spacingAndGlyphs">loader 已执行，则跳过</text>
<text class="r" x="316.500" y="311" textLength="255" lengthAdjust="spacingAndGlyphs">loadLaoder 加载loader 回调时 被赋值</text>
<text class="r" x="316.500" y="330" textLength="192.700" lengthAdjust="spacingAndGlyphs">module| |module[default]</text>
<text class="r" x="355.800" y="465" textLength="73" lengthAdjust="spacingAndGlyphs">调用loader</text>
<circle cx="27" cy="471" r="3.500" fill="#e51400"/><path d="M24 467h3l3 4l-3 4h-3z" fill="#ffcc00" opacity=".7"/>
</g>

<g id="shot-runSync" transform="translate(913,2245)" clip-path="url(#c8)">
<rect class="bg" width="637" height="479"/>
<path class="cl" d="M55 332H617M55 342H617"/>
<path class="guide" d="M55 0V449M78 10V105M78 120V260M78 265V449M101 40V60M101 140V160M101 250V270M101 340V440M124 375V385M124 410V430"/>
<g filter="url(#soft)">
<g transform="translate(33,0) scale(.72,1)">
<text class="l" style="font-size:12px" y="16">95</text><text class="l" style="font-size:12px" y="28.500">96</text><text class="l" style="font-size:12px" y="41">97</text><text class="l" style="font-size:12px" y="53.500">98</text><text class="l" style="font-size:12px" y="66">99</text><text class="l" style="font-size:12px" y="78.500">100</text><text class="l" style="font-size:12px" y="91">101</text><text class="l" style="font-size:12px" y="103.500">102</text><text class="l" style="font-size:12px" y="116">103</text><text class="l" style="font-size:12px" y="128.500">104</text><text class="l" style="font-size:12px" y="141">105</text><text class="l" style="font-size:12px" y="153.500">106</text><text class="l" style="font-size:12px" y="166">107</text><text class="l" style="font-size:12px" y="178.500">108</text><text class="l" style="font-size:12px" y="191">109</text><text class="l" style="font-size:12px" y="203.500">110</text><text class="l" style="font-size:12px" y="216">111</text><text class="l" style="font-size:12px" y="228.500">112</text><text class="l" style="font-size:12px" y="241">113</text><text class="l" style="font-size:12px" y="253.500">114</text><text class="l" style="font-size:12px" y="266">115</text><text class="l" style="font-size:12px" y="278.500">116</text><text class="l" style="font-size:12px" y="291">117</text><text class="l" style="font-size:12px" y="303.500">118</text><text class="l" style="font-size:12px" y="316">119</text><text class="l" style="font-size:12px" y="328.500">120</text><text class="l w" style="font-size:12px;font-weight:700" y="341">121</text><text class="l" style="font-size:12px" y="353.500">122</text><text class="l" style="font-size:12px" y="366">123</text><text class="l" style="font-size:12px" y="378.500">124</text><text class="l" style="font-size:12px" y="391">125</text><text class="l" style="font-size:12px" y="403.500">126</text><text class="l" style="font-size:12px" y="416">127</text><text class="l" style="font-size:12px" y="428.500">128</text><text class="l" style="font-size:12px" y="441">129</text>
</g>
<g transform="translate(78,0) scale(.808,1)">
<text class="m" style="font-size:12px" y="3.500"><tspan class="b">var</tspan> reportedError = <tspan class="b">false</tspan>;</text>
<text class="m" style="font-size:12px" y="16">context.async = <tspan class="b">function</tspan> <tspan class="f">async</tspan>() {</text>
<text class="m" style="font-size:12px" y="28.500"><tspan class="k">    if</tspan>(isDone) {</text>
<text class="m" style="font-size:12px" y="41"><tspan class="k">        if</tspan>(reportedError) <tspan class="k">return</tspan>; <tspan class="c">// ignore</tspan></text>
<text class="m" style="font-size:12px" y="53.500"><tspan class="k">        throw</tspan> <tspan class="b">new</tspan> <tspan class="t">Error</tspan>(<tspan class="s">"async(): The callback was already called."</tspan>);</text>
<text class="m w" style="font-size:12px" y="66">    }</text>
<text class="m" style="font-size:12px" y="78.500">    isSync = <tspan class="b">false</tspan>;</text>
<text class="m" style="font-size:12px" y="91"><tspan class="k">    return</tspan> innerCallback;</text>
<text class="m w" style="font-size:12px" y="103.500">};</text>
<text class="m" style="font-size:12px" y="116"><tspan class="b">var</tspan> innerCallback = context.callback = <tspan class="b">function</tspan>() {</text>
<text class="m" style="font-size:12px" y="128.500"><tspan class="k">    if</tspan>(isDone) {</text>
<text class="m" style="font-size:12px" y="141"><tspan class="k">        if</tspan>(reportedError) <tspan class="k">return</tspan>; <tspan class="c">// ignore</tspan></text>
<text class="m" style="font-size:12px" y="153.500"><tspan class="k">        throw</tspan> <tspan class="b">new</tspan> <tspan class="t">Error</tspan>(<tspan class="s">"callback(): The callback was already called."</tspan>);</text>
<text class="m w" style="font-size:12px" y="166">    }</text>
<text class="m" style="font-size:12px" y="178.500">    isDone = <tspan class="b">true</tspan>;</text>
<text class="m" style="font-size:12px" y="191">    isSync = <tspan class="b">false</tspan>;</text>
<text class="m k" style="font-size:12px" y="203.500">    try {</text>
<text class="m" style="font-size:12px" y="216">        callback.<tspan class="f">apply</tspan>(<tspan class="b">null</tspan>, arguments);</text>
<text class="m" style="font-size:12px" y="228.500">    } <tspan class="k">catch</tspan>(e) {</text>
<text class="m" style="font-size:12px" y="241">        isError = <tspan class="b">true</tspan>;</text>
<text class="m" style="font-size:12px" y="253.500"><tspan class="k">        throw</tspan> e;</text>
<text class="m w" style="font-size:12px" y="266">    }</text>
<text class="m w" style="font-size:12px" y="278.500">};</text>
<text class="m k" style="font-size:12px" y="291">try {</text>
<text class="m" style="font-size:12px" y="303.500"><tspan class="b">    var</tspan> result = (<tspan class="b">function</tspan> <tspan class="f">LOADER_EXECUTION</tspan>() {</text>
<text class="m" style="font-size:12px" y="316"><tspan class="k">        return</tspan> fn.<tspan class="f">apply</tspan>(context, args);</text>
<text class="m w" style="font-size:12px" y="328.500">    }());</text>
<text class="m" style="font-size:12px" y="341"><tspan class="k">    if</tspan>(isSync) {</text>
<text class="m" style="font-size:12px" y="353.500">        isDone = <tspan class="b">true</tspan>;</text>
<text class="m" style="font-size:12px" y="366"><tspan class="k">        if</tspan>(result === <tspan class="b">undefined</tspan>)</text>
<text class="m" style="font-size:12px" y="378.500"><tspan class="k">            return</tspan> <tspan class="f">callback</tspan>();</text>
<text class="m" style="font-size:12px" y="391"><tspan class="k">        if</tspan>(result &amp;&amp; <tspan class="b">typeof</tspan> result === <tspan class="s">"object"</tspan> &amp;&amp; <tspan class="b">typeof</tspan> result.then === <tspan class="s">"function"</tspan>) {</text>
<text class="m" style="font-size:12px" y="403.500"><tspan class="k">            return</tspan> result.<tspan class="f">catch</tspan>(callback).<tspan class="f">then</tspan>(<tspan class="b">function</tspan>(r) {</text>
<text class="m" style="font-size:12px" y="416"><tspan class="f">                callback</tspan>(<tspan class="b">null</tspan>, r);</text>
<text class="m w" style="font-size:12px" y="428.500">            });</text>
<text class="m w" style="font-size:12px" y="441">        }</text>
<text class="m" style="font-size:12px" y="453.500"><tspan class="k">        return</tspan> <tspan class="f">callback</tspan>(<tspan class="b">null</tspan>, result);</text>
</g></g>
<rect x="615" width="20" height="449" class="bg"/><rect x="615" y="24" width="20" height="425" fill="url(#mini)"/>
<rect y="449" width="637" height="30" class="bg"/><path d="M0 449H637" stroke="#3a3a3a"/>
<text x="26" y="466" text-anchor="middle" style="font-family:'Noto Sans CJK SC',sans-serif;font-size:11px;fill:#8a8a8a">问题</text>
<text x="60" y="466" text-anchor="middle" style="font-family:'Noto Sans CJK SC',sans-serif;font-size:11px;fill:#8a8a8a">输出</text>
<text x="107" y="466" text-anchor="middle" style="font-family:'Noto Sans CJK SC',sans-serif;font-size:11px;fill:#e0e0e0">调试控制台</text>
<text x="155" y="466" text-anchor="middle" style="font-family:'Noto Sans CJK SC',sans-serif;font-size:11px;fill:#8a8a8a">终端</text>
<path d="M85 471.600H130" stroke="#888"/>
<text class="m" x="20" y="481" style="fill:#c19c00;font-size:9.500px">/Users/user/.nvm/versions/node/v8.11.2/bin/node --nolazy --inspect-brk=33000 src/platform/mobile/build/build.js</text>
<use href="#tb" x="527" y="-4"/>
<path d="M68.500 322L82 124" stroke="#ff2a1a" stroke-width="5" stroke-linecap="round" fill="none"/>
<path d="M71 138L82 122L93 139" stroke="#ff2a1a" stroke-width="4" fill="none"/>
<text class="r" x="62" y="344" textLength="29.600" lengthAdjust="spacingAndGlyphs">else</text>
<text class="r dim" x="275.700" y="183" textLength="117" lengthAdjust="spacingAndGlyphs">异步loader  回调</text>
<text class="r dim" x="317" y="319" textLength="127" lengthAdjust="spacingAndGlyphs">执行，并返回结果</text>
<text class="r dim" x="220" y="346" textLength="144" lengthAdjust="spacingAndGlyphs">同步loader 往下执行</text>
<circle cx="8.800" cy="337" r="3.500" fill="#e51400"/>
</g>

<g id="shot-source" transform="translate(807,1853)" clip-path="url(#c9)">
<rect width="309" height="346" fill="#bdbdbd"/>
<rect width="6" height="346" fill="#2a2a2a"/>
<rect x="252" width="57" height="346" fill="#b6b6b6"/>
<rect x="252" width="57" height="346" fill="url(#mini)" opacity=".18"/>
<rect x="6" y="63" width="245" height="14" fill="#bcbca0"/>
<text class="gh" x="3" y="149">t" &amp;&amp; typeof result.then === "function") {</text>
<text class="gh" x="3" y="164">n(callback).then(function(r) {</text>
<text class="gh" x="3" y="312">nnot use the callback function</text>
<text class="gh" x="3" y="326">error on the console</text>
<text class="gh" x="3" y="340">console.error(e.stack);</text>
<g filter="url(#soft)">
<text class="a" x="10" y="12">"// The Vue build version to load with the `import` command</text>
<text class="a" x="10" y="23">import 'babel-polyfill';</text>
<text class="a" x="10" y="34">import Vue from 'vue';</text>
<text class="a" x="10" y="45">// var Vue = webpack --config webpack.dll.config.js('vue');</text>
<text class="a" x="10" y="56">// console.log("dll's Vue:", Vue);</text>
<text class="a" x="10" y="66">import App from './App';</text>
<text class="a" x="10" y="77">import router from "./router";</text>
<text class="a" x="10" y="88">import store from "../../store/passport";</text>
<text class="a" x="10" y="99">import VueTouchRipple from 'vue-touch-ripple'</text>
<text class="a" x="10" y="110">/* eslint-disable no-new */</text>
<text class="a" x="10" y="132">// import   '../../../../../../node_module/vue-touch-ripple/dist/vue-touch-ripple.css'</text>
<text class="a" x="10" y="154">// import "../../assets/scss/test.css";</text>
<text class="a" x="10" y="175">Vue.use(VueTouchRipple,  {</text>
<text class="a" x="10" y="186">  color: '#fff',</text>
<text class="a" x="10" y="197">  opacity: 0.3,</text>
<text class="a" x="10" y="208">  speed: 1,</text>
<text class="a" x="10" y="219">  transition: 'ease'</text>
<text class="a" x="10" y="230">} )</text>
<text class="a" x="10" y="252">new Vue({</text>
<text class="a" x="10" y="263">    el: '#passport',</text>
<text class="a" x="10" y="274">    template: '&lt;App/&gt;',</text>
<text class="a" x="10" y="285">    router,</text>
<text class="a" x="10" y="295">    store,</text>
<text class="a" x="10" y="306">    components: { App }</text>
<text class="a" x="10" y="317">});</text>
<text class="a" x="10" y="339">'</text>
</g></g>
</svg>
